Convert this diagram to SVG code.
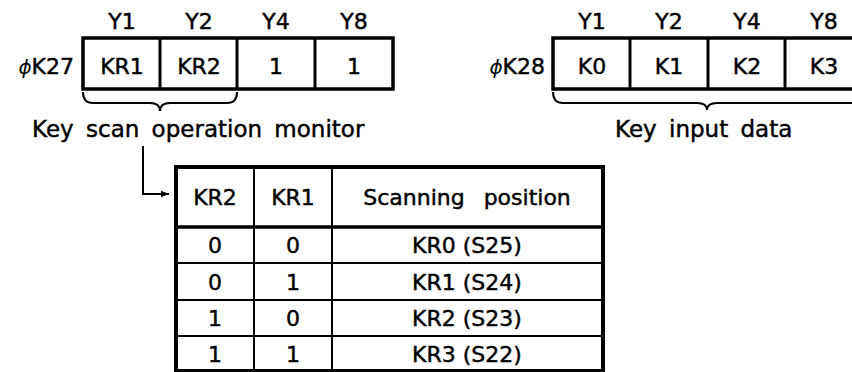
<svg xmlns="http://www.w3.org/2000/svg" width="852" height="372" viewBox="0 0 852 372">
<style>
text{font-family:"DejaVu Sans","Liberation Sans",sans-serif;font-size:22px;fill:#000;stroke:#000;stroke-width:0.45}
.c{text-anchor:middle}
.r{text-anchor:end}
.lbl{font-size:23px;word-spacing:5px}
.ws{word-spacing:12px}
.box{fill:none;stroke:#000;stroke-width:3.5}
.div{stroke:#000;stroke-width:3}
.thin{stroke:#000;stroke-width:2}
.brace{fill:none;stroke:#000;stroke-width:2}
</style>
<defs>
<marker id="ah" viewBox="0 0 10 10" refX="10" refY="5" markerWidth="10" markerHeight="8" markerUnits="userSpaceOnUse" orient="auto">
<path d="M0,1 L10,5 L0,9 Z" fill="#000"/>
</marker>
</defs>
<rect width="852" height="372" fill="#fff"/>

<g id="reg-k27">
<text class="c" x="122" y="29">Y1</text>
<text class="c" x="199" y="29">Y2</text>
<text class="c" x="276" y="29">Y4</text>
<text class="c" x="354" y="29">Y8</text>
<text class="r" x="74" y="74"><tspan font-style="italic" font-size="20" stroke-width="0">ϕ</tspan>K27</text>
<rect class="box" x="83" y="38" width="310" height="51"/>
<line class="div" x1="160" y1="38" x2="160" y2="89"/>
<line class="div" x1="237" y1="38" x2="237" y2="89"/>
<line class="div" x1="315" y1="38" x2="315" y2="89"/>
<text class="c" x="122" y="74">KR1</text>
<text class="c" x="199" y="74">KR2</text>
<text class="c" x="276" y="74">1</text>
<text class="c" x="354" y="74">1</text>
<path class="brace" d="M83,92 Q83,103 93,103 L150,103 Q160,103 160,111 Q160,103 170,103 L227,103 Q237,103 237,92"/>
<text class="lbl" x="32" y="137">Key scan operation monitor</text>
</g>

<g id="reg-k28">
<text class="c" x="592" y="29">Y1</text>
<text class="c" x="669" y="29">Y2</text>
<text class="c" x="747" y="29">Y4</text>
<text class="c" x="824" y="29">Y8</text>
<text class="r" x="545" y="74"><tspan font-style="italic" font-size="20" stroke-width="0">ϕ</tspan>K28</text>
<rect class="box" x="553" y="38" width="310" height="51"/>
<line class="div" x1="630" y1="38" x2="630" y2="89"/>
<line class="div" x1="708" y1="38" x2="708" y2="89"/>
<line class="div" x1="785" y1="38" x2="785" y2="89"/>
<text class="c" x="592" y="74">K0</text>
<text class="c" x="669" y="74">K1</text>
<text class="c" x="747" y="74">K2</text>
<text class="c" x="824" y="74">K3</text>
<path class="brace" d="M553,92 Q553,103 563,103 L697,103 Q707,103 707,110 Q707,103 717,103 L860,103"/>
<text class="lbl" x="615" y="137">Key input data</text>
</g>

<g id="table">
<rect x="176" y="167" width="427" height="204" fill="none" stroke="#000" stroke-width="4"/>
<line x1="176" y1="227" x2="603" y2="227" stroke="#000" stroke-width="3.5"/>
<line class="thin" x1="176" y1="263" x2="603" y2="263"/>
<line class="thin" x1="176" y1="300" x2="603" y2="300"/>
<line class="thin" x1="176" y1="336" x2="603" y2="336"/>
<line class="thin" x1="254" y1="167" x2="254" y2="371"/>
<line class="thin" x1="332" y1="167" x2="332" y2="371"/>
<text class="c" x="215" y="205">KR2</text>
<text class="c" x="293" y="205">KR1</text>
<text class="c ws" x="467" y="205">Scanning position</text>
<text class="c" x="215" y="253">0</text>
<text class="c" x="293" y="253">0</text>
<text class="c" x="467" y="253">KR0 (S25)</text>
<text class="c" x="215" y="290">0</text>
<text class="c" x="293" y="290">1</text>
<text class="c" x="467" y="290">KR1 (S24)</text>
<text class="c" x="215" y="326">1</text>
<text class="c" x="293" y="326">0</text>
<text class="c" x="467" y="326">KR2 (S23)</text>
<text class="c" x="215" y="362">1</text>
<text class="c" x="293" y="362">1</text>
<text class="c" x="467" y="362">KR3 (S22)</text>
</g>

<g id="connectors">
<polyline points="143,146 143,194 169,194" fill="none" stroke="#000" stroke-width="2" marker-end="url(#ah)"/>
</g>
</svg>
